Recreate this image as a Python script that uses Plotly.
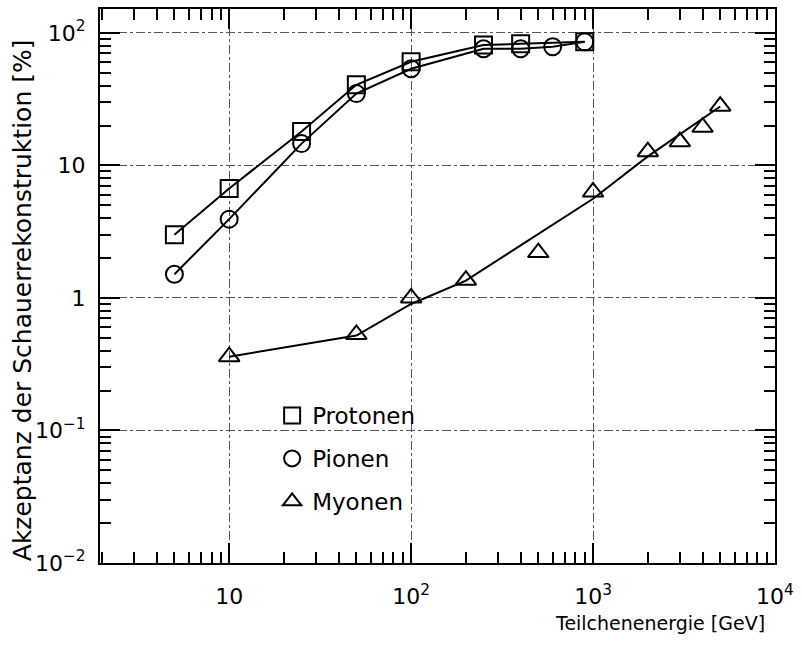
import plotly.graph_objects as go

# ---- data ----
proton_x = [5, 10, 25, 50, 100, 250, 400, 900]
proton_y = [3.0, 6.7, 18.0, 40.6, 60.5, 81, 82.6, 85.5]

pion_x = [5, 10, 25, 50, 100, 250, 400, 600, 900]
pion_y = [1.51, 3.93, 14.6, 34.8, 53.6, 75.8, 75.8, 78.5, 85.5]

muon_x = [10, 50, 100, 200, 500, 1000, 2000, 3000, 4000, 5000]
muon_y = [0.36, 0.53, 1.0, 1.36, 2.2, 6.3, 12.7, 15.1, 19.4, 28]

muon_fit_x = [10, 50, 100, 200, 1000, 2000, 5000]
muon_fit_y = [0.36, 0.52, 0.9, 1.35, 5.6, 11.7, 27.8]

x_tickvals = [10, 100, 1000, 10000]
x_ticktext = ["10", "10<sup>2</sup>", "10<sup>3</sup>", "10<sup>4</sup>"]
y_tickvals = [0.01, 0.1, 1, 10, 100]
y_ticktext = ["10<sup>−2</sup>", "10<sup>−1</sup>", "1", "10", "10<sup>2</sup>"]

FONT = "DejaVu Sans"

minor_x = [m * 10 ** d for d in range(0, 4) for m in range(2, 10)]
minor_y = [m * 10.0 ** d for d in range(-2, 3) for m in range(2, 10)]

fig = go.Figure()

line_style = dict(color="black", width=2)

fig.add_trace(go.Scatter(x=proton_x, y=proton_y, mode="lines", line=line_style,
                         showlegend=False, hoverinfo="skip"))
fig.add_trace(go.Scatter(x=pion_x, y=pion_y, mode="lines", line=line_style,
                         showlegend=False, hoverinfo="skip"))
fig.add_trace(go.Scatter(x=muon_fit_x, y=muon_fit_y, mode="lines", line=line_style,
                         showlegend=False, hoverinfo="skip"))

fig.add_trace(go.Scatter(x=proton_x, y=proton_y, mode="markers", name="Protonen",
                         legendgroup="p",
                         marker=dict(symbol="square-open", size=17, color="black",
                                     line=dict(width=2, color="black"))))
fig.add_trace(go.Scatter(x=pion_x, y=pion_y, mode="markers", name="Pionen",
                         legendgroup="pi",
                         marker=dict(symbol="circle-open", size=17, color="black",
                                     line=dict(width=2, color="black"))))
fig.add_trace(go.Scatter(x=muon_x, y=muon_y, mode="markers", name="Myonen",
                         legendgroup="mu",
                         marker=dict(symbol="triangle-up-open", size=18, color="black",
                                     line=dict(width=2, color="black"))))

axis_common = dict(
    type="log",
    showline=True, linecolor="black", linewidth=2,
    mirror="allticks",
    ticks="inside", ticklen=20, tickwidth=1.5, tickcolor="black",
    showgrid=True, gridcolor="#555", gridwidth=1, griddash="dashdot",
    zeroline=False,
    tickfont=dict(family=FONT, size=22, color="black"),
)

fig.update_xaxes(
    **axis_common,
    range=[0.29, 4.0],
    tickmode="array", tickvals=x_tickvals, ticktext=x_ticktext,
    minor=dict(tickmode="array", tickvals=minor_x, ticks="inside", ticklen=11,
               tickwidth=1.5, tickcolor="black", showgrid=False),
    ticklabelstandoff=13,
)
fig.update_yaxes(
    **axis_common,
    range=[-2.0, 2.18],
    tickmode="array", tickvals=y_tickvals, ticktext=y_ticktext,
    minor=dict(tickmode="array", tickvals=minor_y, ticks="inside", ticklen=11,
               tickwidth=1.5, tickcolor="black", showgrid=False),
    ticklabelstandoff=8,
)

fig.add_annotation(text="Akzeptanz der Schauerrekonstruktion [%]",
                   xref="paper", yref="paper", x=-0.115, y=0.475,
                   xanchor="center", yanchor="middle", textangle=-90, showarrow=False,
                   font=dict(family=FONT, size=25, color="black"))

fig.add_annotation(text="Teilchenenergie [GeV]", xref="paper", yref="paper",
                   x=1.0, y=-0.085, xanchor="right", yanchor="top", showarrow=False,
                   xshift=-8,
                   font=dict(family=FONT, size=19, color="black"))

fig.update_layout(
    width=802, height=645,
    margin=dict(l=100, r=27, t=7, b=82),
    paper_bgcolor="white", plot_bgcolor="white",
    font=dict(family=FONT, color="black"),
    legend=dict(x=0.255, y=0.305, xanchor="left", yanchor="top",
                bgcolor="rgba(0,0,0,0)", font=dict(family=FONT, size=23, color="black"),
                tracegroupgap=10),
)

fig.write_html("out.html")
